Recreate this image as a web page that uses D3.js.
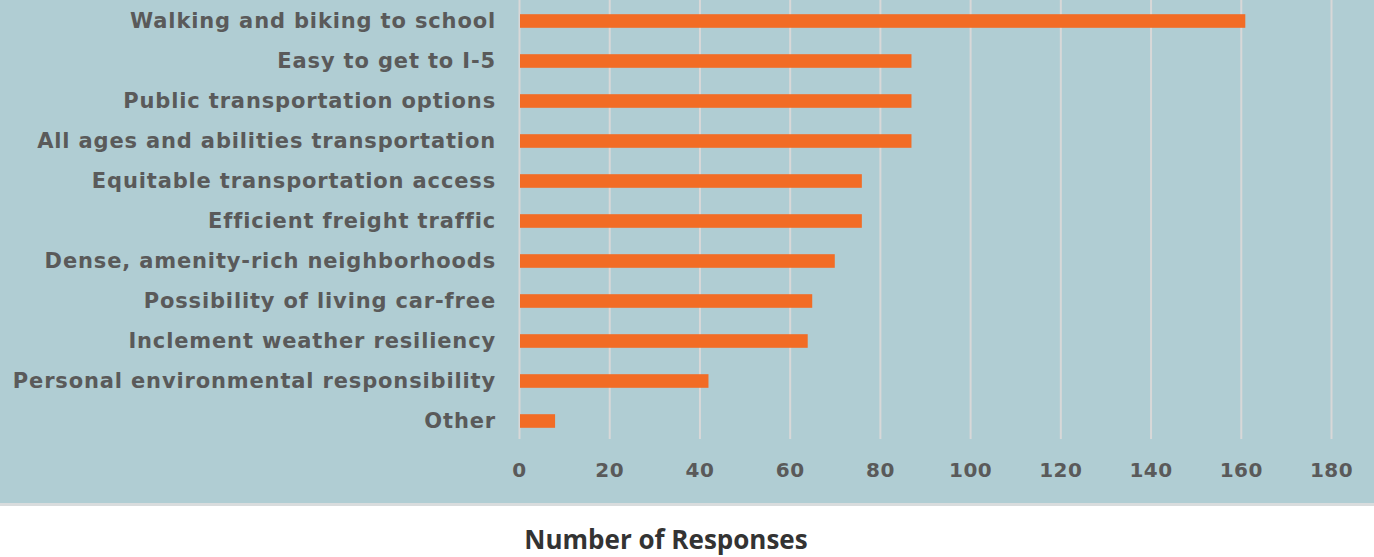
<!DOCTYPE html>
<html><head><meta charset="utf-8">
<script src="https://cdn.jsdelivr.net/npm/d3@7"></script>
<style>html,body{margin:0;padding:0;background:#fff;}svg{display:block;}</style>
</head><body>
<svg id="c" width="1374" height="557"></svg>
<script>
const categories = ["Walking and biking to school","Easy to get to I-5","Public transportation options","All ages and abilities transportation","Equitable transportation access","Efficient freight traffic","Dense, amenity-rich neighborhoods","Possibility of living car-free","Inclement weather resiliency","Personal environmental responsibility","Other"];
const values = [161,87,87,87,76,76,70,65,64,42,8];
const ticks = [0,20,40,60,80,100,120,140,160,180];
const axisTitle = "Number of Responses";

const svg = d3.select("#c");
svg.append("rect").attr("x",0).attr("y",0).attr("width",1374).attr("height",503).attr("fill","#b0cdd3");
svg.append("rect").attr("x",0).attr("y",503).attr("width",1374).attr("height",3).attr("fill","#d9dcdd");

const x = d3.scaleLinear().domain([0,180]).range([519,1331]);
const y = d3.scaleBand().domain(categories).range([1,441]).paddingInner(0.66).paddingOuter(0.33);

const grid = svg.append("g").attr("transform","translate(0,439)")
  .call(d3.axisBottom(x).tickValues(ticks).tickSize(-439).tickFormat(""));
grid.select(".domain").remove();
grid.selectAll("line").attr("stroke","#d8d8d8").attr("stroke-width",2);

svg.append("g").selectAll("rect").data(values).join("rect")
  .attr("x",x(0)+1).attr("y",(d,i)=>y(categories[i]))
  .attr("width",d=>x(d)-x(0)-1).attr("height",y.bandwidth())
  .attr("fill","#f26c25");

const ya = svg.append("g").attr("transform","translate(496,0)")
  .call(d3.axisLeft(y).tickSize(0).tickPadding(0));
ya.select(".domain").remove();
ya.selectAll("text").attr("font-family","DejaVu Sans").attr("font-weight","bold")
  .attr("font-size",21).attr("letter-spacing","0.85px").attr("fill","#5a5a5a").attr("dy","0.35em");

const xa = svg.append("g").attr("transform","translate(0,470)")
  .call(d3.axisBottom(x).tickValues(ticks).tickSize(0).tickPadding(0));
xa.select(".domain").remove();
xa.selectAll("text").attr("font-family","DejaVu Sans").attr("font-weight","bold")
  .attr("font-size",20).attr("letter-spacing","0.5px").attr("fill","#5a5a5a").attr("dy","0.35em");

svg.append("text").attr("x",666).attr("y",549).attr("text-anchor","middle")
  .attr("font-family","Open Sans").attr("font-weight","bold").attr("font-size",26)
  .attr("fill","#333").text(axisTitle);
</script>
</body></html>
